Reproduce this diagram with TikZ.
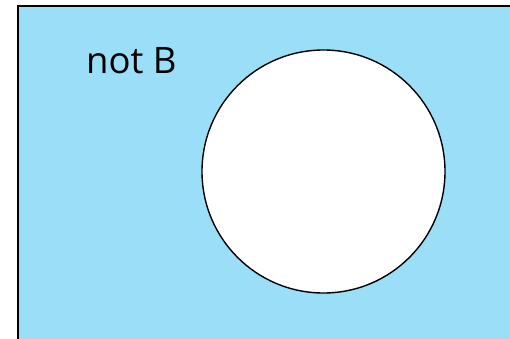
\documentclass[tikz,border=0pt]{standalone}
\usepackage{fontspec}
\setmainfont{Open Sans}
\definecolor{skyfill}{RGB}{154,222,247}
\begin{document}
\begin{tikzpicture}[x=1pt,y=-1pt,
  lbl/.style={inner sep=0pt,anchor=base west,font=\fontsize{36.5}{37}\selectfont}]
\useasboundingbox (0,0) rectangle (510,338);
\fill[white] (0,0) rectangle (510,338);
\path[fill=skyfill,draw=black,line width=2pt] (18,6) rectangle (512,340);
\node[circle,draw=black,fill=white,line width=1.4pt,minimum size=243pt,inner sep=0pt] (B) at (323.5,171.5) {};
\node[lbl] (notB) at (86,73) {not B};
\end{tikzpicture}
\end{document}
